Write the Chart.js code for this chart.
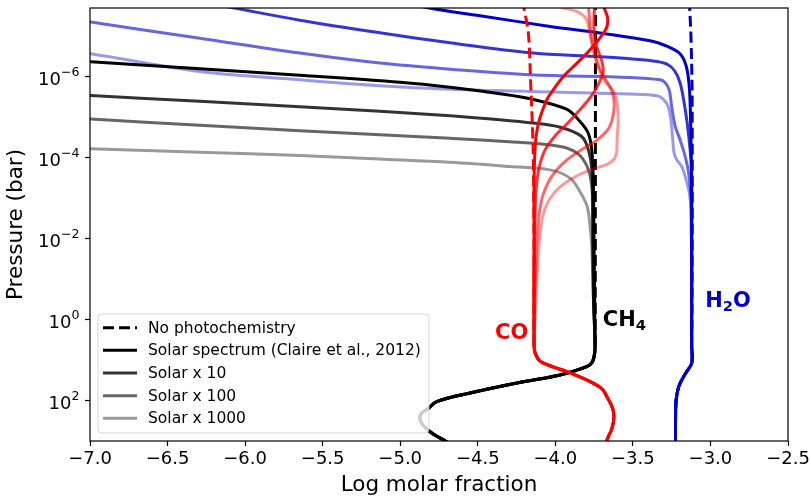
<!DOCTYPE html>
<html>
<head>
<meta charset="utf-8">
<script src="https://cdn.jsdelivr.net/npm/chart.js@4.4.1/dist/chart.umd.min.js"></script>
<style>
  html, body { margin: 0; padding: 0; background: #fff; }
  canvas { display: block; }
</style>
</head>
<body>
<canvas id="chart" width="811" height="499"></canvas>
<script>
// [log10 molar fraction, pressure (bar)]

const xTicks = [-7.0, -6.5, -6.0, -5.5, -5.0, -4.5, -4.0, -3.5, -3.0, -2.5];
const yTicks = [1e-6, 1e-4, 1e-2, 1e0, 1e2];
const legendLabels = ['No photochemistry', 'Solar spectrum (Claire et al., 2012)', 'Solar x 10', 'Solar x 100', 'Solar x 1000'];

// deep atmosphere, shared by every run of a species
const ch4Deep = [[-3.744, 3.2], [-3.746, 6.5], [-3.763, 11.4], [-3.802, 14.8], [-3.969, 23.3], [-4.247, 36.7],
  [-4.55, 65], [-4.765, 106], [-4.815, 152], [-4.866, 214], [-4.873, 285], [-4.854, 401], [-4.797, 632],
  [-4.71, 997], [-4.615, 1660]];
const coDeep = [[-4.137, 4.2], [-4.131, 6.5], [-4.10, 10.5], [-4.015, 14.7], [-3.926, 19.3], [-3.776, 34.1],
  [-3.699, 51.6], [-3.668, 80], [-3.632, 150], [-3.622, 250], [-3.634, 476], [-3.658, 780], [-3.692, 1660]];
const h2oDeep = [[-3.121, 4.2], [-3.120, 11.7], [-3.150, 18.5], [-3.174, 26.1], [-3.205, 46.1], [-3.221, 96.7],
  [-3.225, 302], [-3.225, 1660]];

// CH4
const ch4NoPhoto = [[-3.741, 1.2e-8], [-3.742, 1e-3], [-3.743, 1.0]];
const ch4Solar = [[-7.3, 3.6e-7], [-6.995, 4.26e-7], [-6.292, 6.34e-7], [-5.647, 9.18e-7], [-5.002, 1.37e-6],
  [-4.679, 1.82e-6], [-4.357, 2.63e-6], [-4.163, 3.5e-6], [-3.925, 6.4e-6], [-3.841, 1.27e-5],
  [-3.789, 2.42e-5], [-3.765, 6.4e-5], [-3.755, 4.2e-4], [-3.750, 1.9e-2]];
const ch4X10 = [[-7.3, 2.4e-6], [-6.995, 2.9e-6], [-6.292, 4.04e-6], [-5.647, 5.52e-6], [-5.131, 7.13e-6],
  [-4.679, 9.2e-6], [-4.357, 1.16e-5], [-4.163, 1.37e-5], [-3.969, 1.77e-5], [-3.83, 3.0e-5],
  [-3.787, 6.4e-5], [-3.765, 2.0e-4], [-3.759, 1.3e-3], [-3.754, 0.33]];
const ch4X100 = [[-7.3, 9.2e-6], [-6.995, 1.11e-5], [-6.292, 1.58e-5], [-5.647, 2.16e-5], [-5.131, 2.72e-5],
  [-4.679, 3.31e-5], [-4.292, 4.04e-5], [-3.969, 5.28e-5], [-3.86, 7.7e-5], [-3.795, 1.65e-4],
  [-3.765, 5.2e-4], [-3.759, 3.4e-3], [-3.754, 0.33]];
const ch4X1000 = [[-7.3, 5.2e-5], [-6.995, 6.0e-5], [-6.292, 7.35e-5], [-5.647, 8.8e-5], [-5.131, 1.08e-4],
  [-4.679, 1.30e-4], [-4.292, 1.65e-4], [-4.034, 2.0e-4], [-3.905, 3.2e-4], [-3.841, 6.9e-4],
  [-3.795, 1.6e-3], [-3.776, 5.0e-3], [-3.765, 1.6e-2], [-3.754, 0.33]];

// CO
const coNoPhoto = [[-4.208, 1.26e-8], [-4.202, 2.0e-8], [-4.174, 8.2e-8], [-4.159, 1.41e-6], [-4.147, 2.0e-5],
  [-4.141, 1.7e-4], [-4.137, 1.9e-2]];
const coSolar = [[-3.705, 1.25e-8], [-3.686, 1.97e-8], [-3.663, 3.5e-8], [-3.670, 6.2e-8], [-3.712, 1.09e-7],
  [-3.776, 2.15e-7], [-3.860, 4.6e-7], [-3.948, 9.8e-7], [-4.013, 2.1e-6], [-4.055, 3.7e-6],
  [-4.099, 1.03e-5], [-4.120, 2.3e-5], [-4.131, 6.4e-5], [-4.137, 3.5e-4], [-4.137, 1.9e-2]];
const coX10 = [[-3.744, 1.25e-8], [-3.750, 2.93e-8], [-3.750, 8.2e-8], [-3.731, 1.92e-7], [-3.699, 4.26e-7],
  [-3.692, 7.5e-7], [-3.724, 1.58e-6], [-3.776, 3.3e-6], [-3.853, 7.3e-6], [-3.924, 1.45e-5],
  [-4.001, 2.88e-5], [-4.066, 6.4e-5], [-4.105, 1.78e-4], [-4.124, 6.2e-4], [-4.131, 3.4e-3], [-4.137, 3.3e-2]];
const coX100 = [[-3.789, 1.25e-8], [-3.782, 2.93e-8], [-3.770, 9.2e-8], [-3.750, 2.15e-7], [-3.724, 5.05e-7],
  [-3.686, 1.0e-6], [-3.634, 2.35e-6], [-3.621, 5.83e-6], [-3.653, 1.82e-5], [-3.737, 3.82e-5],
  [-3.821, 6.03e-5], [-3.925, 1.13e-4], [-4.021, 2.8e-4], [-4.079, 8.3e-4], [-4.105, 2.58e-3],
  [-4.118, 1.07e-2], [-4.131, 0.185]];
const coX1000 = [[-4.066, 1.40e-8], [-3.950, 1.97e-8], [-3.860, 2.47e-8], [-3.802, 3.68e-8], [-3.776, 9.2e-8],
  [-3.757, 2.15e-7], [-3.724, 6.0e-7], [-3.679, 1.33e-6], [-3.627, 2.22e-6], [-3.602, 4.4e-6],
  [-3.595, 1.16e-5], [-3.602, 3.6e-5], [-3.608, 8.5e-5], [-3.647, 1.34e-4], [-3.731, 1.78e-4],
  [-3.821, 2.36e-4], [-3.905, 3.52e-4], [-3.989, 6.2e-4], [-4.047, 1.23e-3], [-4.079, 2.58e-3],
  [-4.099, 8.05e-3], [-4.112, 3.34e-2], [-4.125, 0.326]];

// H2O
const h2oNoPhoto = [[-3.137, 1.25e-8], [-3.134, 1.97e-8], [-3.125, 1.22e-7], [-3.118, 3.7e-6], [-3.119, 1.0]];
const h2oSolar = [[-5.034, 1.25e-8], [-4.821, 1.97e-8], [-4.486, 3.1e-8], [-4.034, 5.7e-8], [-3.712, 8.3e-8],
  [-3.389, 1.29e-7], [-3.273, 1.81e-7], [-3.196, 2.7e-7], [-3.157, 5.35e-7], [-3.137, 1.67e-6],
  [-3.128, 1.16e-5], [-3.121, 1.1e-3]];
const h2oX10 = [[-6.357, 1.25e-8], [-6.079, 1.97e-8], [-5.647, 4.0e-8], [-5.131, 8.2e-8], [-4.679, 1.44e-7],
  [-4.163, 2.55e-7], [-3.712, 3.2e-7], [-3.518, 3.6e-7], [-3.344, 4.2e-7], [-3.273, 5.05e-7],
  [-3.228, 7.4e-7], [-3.196, 1.41e-6], [-3.173, 3.7e-6], [-3.15, 1.37e-5], [-3.131, 6.4e-5], [-3.121, 2.65e-4]];
const h2oX100 = [[-7.3, 3.0e-8], [-6.995, 4.45e-8], [-6.292, 1.12e-7], [-5.647, 2.6e-7], [-5.131, 4.6e-7],
  [-4.679, 6.5e-7], [-4.163, 8.9e-7], [-3.518, 1.04e-6], [-3.324, 1.19e-6], [-3.292, 1.41e-6],
  [-3.266, 2.1e-6], [-3.25, 5.4e-6], [-3.228, 1.63e-5], [-3.196, 3.6e-5], [-3.163, 9.3e-5],
  [-3.141, 2.36e-4], [-3.125, 1.1e-3]];
const h2oX1000 = [[-7.3, 1.95e-7], [-6.995, 2.7e-7], [-6.292, 7.4e-7], [-5.647, 1.19e-6], [-5.131, 1.67e-6],
  [-4.679, 2.04e-6], [-4.163, 2.31e-6], [-3.518, 2.68e-6], [-3.344, 2.95e-6], [-3.305, 3.56e-6],
  [-3.273, 5.4e-6], [-3.255, 1.16e-5], [-3.243, 3.6e-5], [-3.234, 7.7e-5], [-3.217, 1.13e-4],
  [-3.185, 1.65e-4], [-3.157, 3.5e-4], [-3.136, 7.5e-4], [-3.125, 1.94e-3]];

const FONT = "'DejaVu Sans', sans-serif";
const alphas = [1, 0.8, 0.6, 0.4];
const RED = '255,0,0', BLACK = '0,0,0', BLUE = '0,0,205';

function line(points, rgb, alpha, dashed) {
  return {
    data: points.map(([x, p]) => ({ x, y: p })),
    borderColor: `rgba(${rgb},${alpha})`,
    borderWidth: 3,
    borderDash: dashed ? [11, 5] : [],
    borderCapStyle: 'butt',
    borderJoinStyle: 'round',
    pointRadius: 0,
    showLine: true,
    tension: 0.35,
    fill: false,
    clip: 0
  };
}

// bottom layer first
const datasets = [
  line(h2oNoPhoto.concat(h2oDeep), BLUE, 1, true),
  line(h2oSolar.concat(h2oDeep), BLUE, alphas[0]),
  line(h2oX10.concat(h2oDeep), BLUE, alphas[1]),
  line(h2oX100.concat(h2oDeep), BLUE, alphas[2]),
  line(h2oX1000.concat(h2oDeep), BLUE, alphas[3]),
  line(ch4NoPhoto.concat(ch4Deep), BLACK, 1, true),
  line(ch4Solar.concat(ch4Deep), BLACK, alphas[0]),
  line(ch4X10.concat(ch4Deep), BLACK, alphas[1]),
  line(ch4X100.concat(ch4Deep), BLACK, alphas[2]),
  line(ch4X1000.concat(ch4Deep), BLACK, alphas[3]),
  line(coNoPhoto.concat(coDeep), RED, 1, true),
  line(coSolar.concat(coDeep), RED, alphas[0]),
  line(coX10.concat(coDeep), RED, alphas[1]),
  line(coX100.concat(coDeep), RED, alphas[2]),
  line(coX1000.concat(coDeep), RED, alphas[3])
];
datasets.forEach((d, i) => { d.order = datasets.length - i; });

function fmtTick(v) {
  const s = Math.abs(v).toFixed(1);
  return v < 0 ? '\u2212' + s : s;
}

// text with subscripts, parts = [[text, isSub], ...]
function drawFormula(ctx, parts, x, y, color) {
  ctx.fillStyle = color;
  ctx.textBaseline = 'alphabetic';
  ctx.textAlign = 'left';
  for (const [t, sub] of parts) {
    ctx.font = sub ? `bold 14.7px ${FONT}` : `bold 21px ${FONT}`;
    ctx.fillText(t, x, sub ? y + 4.5 : y);
    x += ctx.measureText(t).width;
  }
}

function drawLegend(ctx, a) {
  const x0 = a.left + 8, w = 331, h = 119;
  const y0 = a.bottom - 8 - h;
  ctx.save();
  ctx.beginPath();
  ctx.roundRect(x0, y0, w, h, 4);
  ctx.fillStyle = 'rgba(255,255,255,0.8)';
  ctx.fill();
  ctx.strokeStyle = 'rgba(204,204,204,0.8)';
  ctx.lineWidth = 1;
  ctx.stroke();
  ctx.font = `15.5px ${FONT}`;
  ctx.textBaseline = 'middle';
  ctx.textAlign = 'left';
  legendLabels.forEach((label, i) => {
    const cy = y0 + 13.7 + i * 22.65;
    ctx.beginPath();
    ctx.setLineDash(i === 0 ? [11, 5] : []);
    ctx.strokeStyle = i === 0 ? '#000' : `rgba(0,0,0,${alphas[i - 1]})`;
    ctx.lineWidth = 3;
    ctx.lineCap = 'butt';
    ctx.moveTo(x0 + 5, cy);
    ctx.lineTo(x0 + 39, cy);
    ctx.stroke();
    ctx.fillStyle = '#000';
    ctx.fillText(label, x0 + 50, cy + 1);
  });
  ctx.restore();
}

const decor = {
  id: 'decor',
  afterDatasetsDraw(chart) {
    const { ctx, chartArea: a, scales: { x, y } } = chart;
    ctx.save();
    drawFormula(ctx, [['CO', false]], x.getPixelForValue(-4.389), y.getPixelForValue(3.0), '#ff0000');
    drawFormula(ctx, [['CH', false], ['4', true]], x.getPixelForValue(-3.694), y.getPixelForValue(1.43), '#000');
    drawFormula(ctx, [['H', false], ['2', true], ['O', false]], x.getPixelForValue(-3.034), y.getPixelForValue(0.476), '#0000cd');
    ctx.restore();
    drawLegend(ctx, a);
  },
  afterDraw(chart) {
    const { ctx, chartArea: a, scales: { y } } = chart;
    ctx.save();
    ctx.strokeStyle = '#000';
    ctx.lineWidth = 1.2;
    ctx.strokeRect(a.left, a.top, a.right - a.left, a.bottom - a.top);
    // y tick labels as 10 with superscript exponent
    ctx.fillStyle = '#000';
    ctx.textBaseline = 'alphabetic';
    ctx.textAlign = 'left';
    for (const v of yTicks) {
      const py = y.getPixelForValue(v);
      const e = Math.round(Math.log10(v));
      const es = e < 0 ? '\u2212' + (-e) : String(e);
      ctx.font = `18px ${FONT}`;
      const w10 = ctx.measureText('10').width;
      ctx.font = `12.6px ${FONT}`;
      const we = ctx.measureText(es).width;
      const xr = a.left - 10.5;
      ctx.font = `18px ${FONT}`;
      ctx.fillText('10', xr - we - w10, py + 8);
      ctx.font = `12.6px ${FONT}`;
      ctx.fillText(es, xr - we, py - 1);
    }
    ctx.restore();
  }
};

new Chart(document.getElementById('chart'), {
  type: 'scatter',
  data: { datasets },
  options: {
    responsive: false,
    animation: false,
    events: [],
    layout: { padding: { top: 8, right: 0, bottom: 0, left: 0 } },
    elements: { line: { capBezierPoints: false } },
    plugins: { legend: { display: false }, tooltip: { enabled: false } },
    scales: {
      x: {
        type: 'linear',
        min: -7, max: -2.5,
        afterBuildTicks: s => { s.ticks = xTicks.map(v => ({ value: v })); },
        afterFit: s => { s.height = 58; s.paddingRight = 23; s.paddingLeft = 0; },
        ticks: { callback: v => fmtTick(v), color: '#000', font: { family: FONT, size: 18 }, padding: 3, maxRotation: 0, autoSkip: false },
        grid: { drawOnChartArea: false, drawTicks: true, tickLength: 5, tickColor: '#000', tickWidth: 1.2 },
        border: { display: false },
        title: { display: true, text: 'Log molar fraction', color: '#000', font: { family: FONT, size: 21.5 }, padding: { top: 0, bottom: 1 } }
      },
      y: {
        type: 'logarithmic',
        reverse: true,
        min: 2e-8, max: 1e3,
        afterBuildTicks: s => { s.ticks = yTicks.map(v => ({ value: v })); },
        afterFit: s => { s.width = 90; s.paddingTop = 0; s.paddingBottom = 0; },
        ticks: { callback: () => '', font: { family: FONT, size: 18 } },
        grid: { drawOnChartArea: false, drawTicks: true, tickLength: 5, tickColor: '#000', tickWidth: 1.2 },
        border: { display: false },
        title: { display: true, text: 'Pressure (bar)', color: '#000', font: { family: FONT, size: 21.5 }, padding: { top: 4, bottom: 0 } }
      }
    }
  },
  plugins: [decor]
});
</script>
</body>
</html>
